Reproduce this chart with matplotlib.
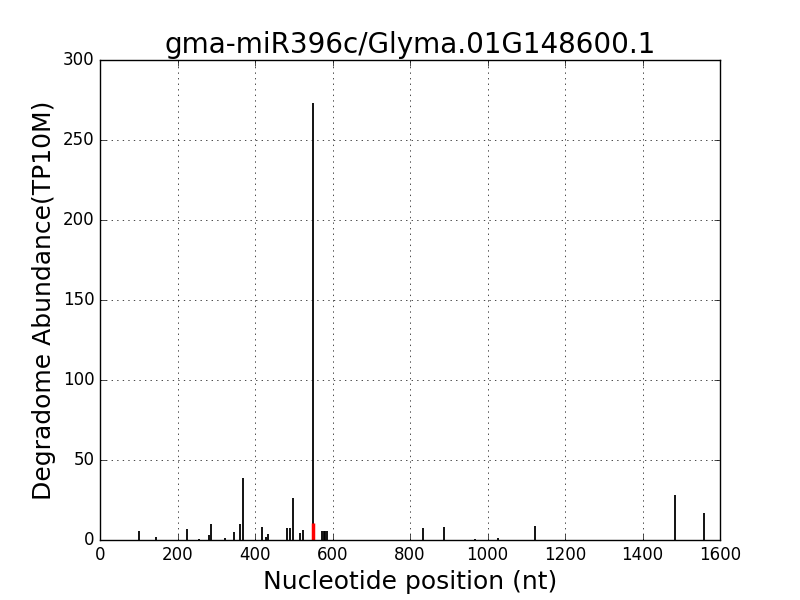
import matplotlib
matplotlib.use("Agg")
import matplotlib.pyplot as plt

plt.style.use("classic")

positions = [101, 145, 225, 256, 281, 287, 323, 347, 361, 370, 418, 429, 434,
             483, 491, 499, 516, 524, 549, 573, 577, 581, 585, 834, 889, 969,
             1028, 1122, 1484, 1559]
abundance = [5.4, 2.1, 7.1, 0.5, 3.4, 10.2, 1.5, 5.2, 9.8, 38.5, 7.9, 2.1, 3.6,
             7.3, 7.6, 26.0, 4.3, 6.2, 273.0, 5.5, 5.5, 5.5, 5.5, 7.4, 8.0, 0.5,
             1.0, 8.7, 28.0, 16.9]
target_pos = [550]
target_val = [10.6]

title = "gma-miR396c/Glyma.01G148600.1"
xlabel = "Nucleotide position (nt)"
ylabel = "Degradome Abundance(TP10M)"

fig = plt.figure(figsize=(8, 6), dpi=100)
ax = fig.add_subplot(111)
ax.vlines(positions, 0, abundance, colors="black", linewidth=1.3)
ax.vlines(target_pos, 0, target_val, colors="red", linewidth=2.5)
ax.set_xlim(0, 1600)
ax.set_ylim(0, 300)
ax.grid(True)
ax.set_title(title, fontsize=20)
ax.set_xlabel(xlabel, fontsize=18)
ax.set_ylabel(ylabel, fontsize=18)
fig.savefig("out.png", dpi=100)
